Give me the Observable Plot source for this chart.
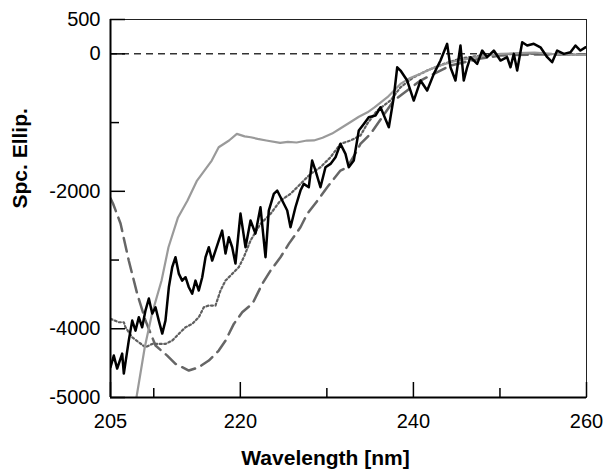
<!DOCTYPE html>
<html><head><meta charset="utf-8">
<script src="https://cdn.jsdelivr.net/npm/d3@7"></script>
<script src="https://cdn.jsdelivr.net/npm/@observablehq/plot@0.6"></script>
<style>html,body{margin:0;padding:0;background:#fff} svg{display:block}</style>
</head><body><div id="chart"></div>
<script>
// Tick values
const xMajorTicks = [205, 220, 240, 260];
const xMinorTicks = [210, 230, 250];
const yMajorTicks = [500, 0, -2000, -4000, -5000];
const yMinorTicks = [-1000, -3000];

// Series 1: black solid (noisy)
const blackWl = [205.00,205.38,205.77,206.35,206.54,207.11,207.51,207.89,208.27,208.66,209.04,209.43,209.82,210.20,210.58,210.98,211.35,211.74,212.13,212.51,212.89,213.28,213.67,214.05,214.44,214.82,215.20,215.60,215.98,216.36,216.75,217.13,217.51,217.90,218.29,218.67,219.06,219.44,220.02,220.60,221.18,221.75,222.33,222.91,223.29,223.87,224.26,224.84,225.42,225.80,226.37,226.95,227.33,227.91,228.30,228.69,229.26,229.84,230.42,231.00,231.57,232.15,232.53,233.11,233.69,234.27,234.84,235.62,236.20,237.16,237.73,238.13,238.51,239.28,240.04,240.82,241.59,242.36,243.13,243.90,244.28,244.86,245.44,245.82,246.21,246.59,247.37,247.95,248.52,249.29,250.06,250.83,251.22,251.60,251.99,252.57,253.15,253.91,254.68,255.46,256.03,256.61,257.38,258.15,258.73,259.30,259.88];
const blackVal = [-4560,-4390,-4579,-4361,-4652,-4172,-3881,-4027,-3832,-3978,-3735,-3560,-3779,-3687,-3881,-4070,-3881,-3396,-3105,-2959,-3197,-3299,-3250,-3396,-3488,-3299,-3444,-3250,-2959,-2814,-3008,-2862,-2716,-2571,-2906,-2668,-2814,-3051,-2324,-2814,-2425,-2615,-2232,-2959,-2280,-2037,-1989,-2134,-2280,-2523,-2232,-1989,-1892,-1941,-1552,-1698,-1941,-1650,-1601,-1504,-1310,-1455,-1650,-1552,-1116,-1019,-922,-898,-777,-1068,-631,-195,-243,-388,-679,-388,-534,-291,-97,146,-195,-388,121,-388,-195,-49,-146,48,-49,48,-97,-49,-195,0,-243,169,121,146,96,-49,-122,48,0,23,121,48,96];

// Series 2: light gray solid
const grayWl = [208.0,208.96,209.8,210.9,211.7,212.8,213.9,215.0,216.7,217.5,218.7,219.6,220.5,221.2,222.0,223.0,224.6,225.5,226.5,227.7,228.5,229.5,230.6,231.5,232.7,233.7,234.7,235.5,237.0,238.5,239.5,240.8,242.0,243.1,244.5,246.2,248.0,250.1,252.0,254.0,256.0,258.0,260.0];
const grayVal = [-5000,-4269,-3779,-3298,-2814,-2380,-2134,-1844,-1553,-1359,-1261,-1164,-1200,-1213,-1237,-1260,-1295,-1280,-1290,-1261,-1260,-1220,-1160,-1090,-995,-915,-850,-780,-631,-437,-360,-291,-220,-170,-115,-73,-30,0,10,20,0,-10,-15];

// Series 3: dark gray dotted
const dotWl = [205.0,205.96,206.54,206.73,207.51,208.27,209.04,209.82,210.78,211.35,212.13,212.89,213.67,214.44,215.20,215.78,216.36,217.13,217.71,218.29,219.06,219.82,220.40,221.18,222.33,223.49,224.64,225.80,226.95,228.11,229.26,230.42,231.57,232.73,233.88,234.66,235.81,237.35,238.51,240.04,241.59,243.51,245.44,247.75,250.0,253.5,257.0,260.0];
const dotVal = [-3856,-3905,-3905,-3978,-4123,-4196,-4269,-4220,-4220,-4220,-4172,-4074,-3978,-3929,-3832,-3687,-3662,-3662,-3444,-3299,-3201,-3105,-2959,-2716,-2474,-2328,-2134,-2037,-1892,-1746,-1650,-1504,-1310,-1261,-1189,-1019,-825,-679,-486,-340,-243,-146,-68,-25,-10,5,-10,-10];

// Series 4: dark gray dashed
const dashWl = [205.0,205.3,206.16,207.11,208.08,209.04,210.20,211.55,212.51,214.05,215.20,216.36,217.51,218.29,219.25,220.22,221.41,222.56,223.49,224.64,225.60,226.95,227.73,229.07,230.04,231.57,232.35,233.50,233.88,235.04,237.73,240.82,244.28,247.75,250.0,253.5,260.0];
const dashVal = [-2100,-2180,-2469,-3007,-3488,-3880,-4244,-4390,-4510,-4608,-4560,-4462,-4317,-4172,-3929,-3760,-3633,-3342,-3153,-2959,-2765,-2523,-2328,-2110,-1941,-1698,-1650,-1407,-1310,-1164,-679,-388,-170,-68,-25,-10,-10];

const zip = (w, v) => w.map((x, i) => ({wl: x, v: v[i]}));
const black = zip(blackWl, blackVal);
const gray = zip(grayWl, grayVal);
const dotted = zip(dotWl, dotVal);
const dashed = zip(dashWl, dashVal);

const font = "'Liberation Sans', Arial, Helvetica, sans-serif";

const chart = Plot.plot({
  width: 604, height: 469,
  marginLeft: 110, marginRight: 18, marginTop: 19, marginBottom: 72,
  style: {fontFamily: font, fontSize: "20px", color: "#000", background: "#fff", overflow: "visible"},
  x: {domain: [205, 260]},
  y: {domain: [-5000, 500]},
  marks: [
    Plot.frame({stroke: "#222", strokeWidth: 1}),
    Plot.ruleY([0], {stroke: "#333", strokeWidth: 1.5, strokeDasharray: "7,5"}),
    Plot.line(dashed, {x: "wl", y: "v", stroke: "#666", strokeWidth: 2.5, strokeDasharray: "14,7", clip: true}),
    Plot.line(dotted, {x: "wl", y: "v", stroke: "#606060", strokeWidth: 2.2, strokeDasharray: "2,2.5", clip: true}),
    Plot.line(gray, {x: "wl", y: "v", stroke: "#9a9a9a", strokeWidth: 2.2, clip: true}),
    Plot.line(black, {x: "wl", y: "v", stroke: "#000", strokeWidth: 2.5, clip: true}),
    Plot.ruleX([205], {stroke: "#000", strokeWidth: 2}),
    Plot.ruleY([-5000], {stroke: "#000", strokeWidth: 2}),
    Plot.axisX(xMajorTicks, {tickSize: -15, fill: "none", stroke: "#000", strokeWidth: 1.5, label: null}),
    Plot.axisX(xMinorTicks, {tickSize: -9, fill: "none", stroke: "#000", strokeWidth: 1.5, label: null}),
    Plot.axisY(yMajorTicks, {tickSize: -15, fill: "none", stroke: "#000", strokeWidth: 1.5, label: null}),
    Plot.axisY(yMinorTicks, {tickSize: -9, fill: "none", stroke: "#000", strokeWidth: 1.5, label: null}),
    Plot.axisX(xMajorTicks, {tickSize: 0, tickPadding: 16, fontSize: 20, fill: "#000", label: null}),
    Plot.axisY(yMajorTicks, {tickSize: 0, tickPadding: 10, fontSize: 20, fill: "#000", label: null, tickFormat: d => String(d)}),
    Plot.text(["Wavelength [nm]"], {frameAnchor: "bottom", dx: -23, dy: 53, lineAnchor: "top", fontSize: 21, fontWeight: "bold", fill: "#000"}),
    Plot.text(["Spc. Ellip."], {frameAnchor: "left", dx: -90, rotate: -90, fontSize: 21, fontWeight: "bold", fill: "#000"})
  ]
});
document.getElementById("chart").appendChild(chart);
</script>
</body></html>
